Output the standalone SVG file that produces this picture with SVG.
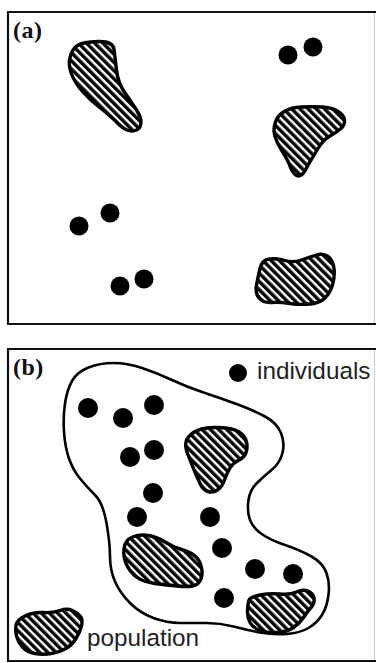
<svg xmlns="http://www.w3.org/2000/svg" width="376" height="663" viewBox="0 0 376 663">
<defs>
<pattern id="hatch" patternUnits="userSpaceOnUse" width="5.8" height="5.8" patternTransform="rotate(-45)">
<rect x="0" y="0" width="5.8" height="5.8" fill="#fff"/>
<rect x="0" y="0" width="3.4" height="5.8" fill="#000"/>
</pattern>
<style>
.frame{fill:none;stroke:#111;stroke-width:2.2;stroke-linecap:square}
.rframe{stroke:#ccc;stroke-width:1;fill:none}
.patch{fill:url(#hatch);stroke:#000;stroke-width:3.4;stroke-linejoin:round}
.dot{fill:#000}
.bound{fill:none;stroke:#000;stroke-width:2.6;stroke-linejoin:round}
.plabel{font-family:"Liberation Serif","Times New Roman",serif;font-weight:bold;font-size:24px;fill:#111;letter-spacing:0.5px}
.lbl{font-family:"Liberation Sans",Arial,sans-serif;font-size:24.3px;fill:#222}
</style>
</defs>
<rect width="376" height="663" fill="#fff"/>
<g id="panel-a">
<path class="frame" d="M8,12 L376,12 M8,12 L8,324 L376,324"/>
<line class="rframe" x1="374.5" y1="13" x2="374.5" y2="323"/>
<text class="plabel" x="13" y="38">(a)</text>
<g id="a-patch1"><path class="patch" d="M70,57.5 Q72,49 77.5,45.5 Q83,42 98,41.5 Q113,41 114,49.5 Q115,57 116.5,70 Q118,83 125,93 Q132,103 136.5,110 Q141,117 141,122 Q141,128 136.5,130 Q132,132 127,130 Q122,128 115,120.5 Q107,113 98.5,106.5 Q90,100 82.5,91.5 Q75,83 71.5,74 Q68,65 70,57.5 Z"/></g>
<g id="a-patch2"><path class="patch" d="M275,123.5 Q277,116 283.5,112 Q290,107.5 301.5,107 Q313,106.5 323,107 Q333,108 338,111.5 Q344,115 344.5,120 Q345,125 341,128.5 Q337,132 330,136 Q323,140 318,148.5 Q313,157 308,165 Q304,174 300.5,175.5 Q297,177 294,173.5 Q291,170 289,163.5 Q286,157 281.5,150 Q277,143 275,136.5 Q273,130 275,123.5 Z"/></g>
<g id="a-patch3"><path class="patch" d="M260,268.5 Q262,260 269.5,259 Q277,258 285,260.5 Q293,263 301.5,260 Q310,257 316.5,255 Q323,253 328,256.5 Q333,260 334,268.5 Q335,277 332.5,285 Q330,293 325,298 Q320,303 310,304 Q300,305 290,303.5 Q280,302 271.5,302.5 Q263,303 259,298 Q255,293 256.5,285 Q258,277 260,268.5 Z"/></g>
<g id="a-dots">
<circle class="dot" cx="288" cy="55" r="9.5"/>
<circle class="dot" cx="313" cy="47" r="9.5"/>
<circle class="dot" cx="79" cy="226" r="9.5"/>
<circle class="dot" cx="110" cy="213" r="9.5"/>
<circle class="dot" cx="120" cy="286" r="9.5"/>
<circle class="dot" cx="144" cy="279" r="9.5"/>
</g>
</g>
<g id="panel-b">
<path class="frame" d="M8,349 L376,349 M8,349 L8,661 L376,661"/>
<line class="rframe" x1="374.5" y1="350" x2="374.5" y2="660"/>
<text class="plabel" x="13" y="375">(b)</text>
<g id="legend-individuals">
<circle class="dot" cx="238" cy="373" r="9"/>
<text class="lbl" x="257" y="379">individuals</text>
</g>
<g id="population-boundary"><path class="bound" d="M72,381 Q77,372 88.5,367.5 Q100,363 113.5,363 Q127,363 142,368 Q157,373 172,380 Q187,387 203.5,392.5 Q220,398 236.5,404 Q253,410 265,416.5 Q277,423 281,433 Q285,443 282.5,453 Q280,463 271.5,470 Q263,477 256.5,483.5 Q250,490 248.5,500 Q247,510 249.5,518.5 Q252,527 261,533.5 Q270,540 285,545 Q300,550 311.5,556.5 Q323,563 326.5,573 Q330,583 328.5,595 Q327,607 322,615 Q317,623 308.5,628 Q300,633 286.5,634 Q273,635 260,632.5 Q247,630 233.5,626.5 Q220,623 206.5,623 Q193,623 180,623 Q167,623 153.5,618 Q140,613 130,603 Q120,593 115,581.5 Q110,570 110,556.5 Q110,543 106.5,523 Q103,503 95,495 Q87,487 80,478.5 Q73,470 69,458.5 Q65,447 64,432 Q63,417 65,403.5 Q67,390 72,381 Z"/></g>
<g id="b-patch1"><path class="patch" d="M186,442 Q187,437 193.5,432.5 Q200,428 213.5,427.5 Q227,427 235,430 Q243,433 245.5,439 Q248,445 246.5,451 Q245,457 239,460 Q233,463 230,468 Q227,473 224.5,480 Q222,487 217.5,490 Q213,493 208,491.5 Q203,490 200,483.5 Q197,477 193.5,468.5 Q190,460 187.5,453.5 Q185,447 186,442 Z"/></g>
<g id="b-patch2"><path class="patch" d="M124,548.5 Q125,540 132.5,537 Q140,534 148.5,535.5 Q157,537 165,542 Q173,547 181.5,549.5 Q190,552 195,556 Q200,560 201.5,567.5 Q203,575 200.5,580 Q198,585 192.5,586 Q187,587 177,586 Q167,585 155,583.5 Q143,582 136.5,577 Q130,572 126.5,564.5 Q123,557 124,548.5 Z"/></g>
<g id="b-patch3"><path class="patch" d="M249,600 Q250,597 260,595 Q270,593 280,594 Q290,595 296.5,592 Q303,589 308,591 Q313,593 314,598 Q315,603 311,607.5 Q307,612 303.5,617.5 Q300,623 293.5,627.5 Q287,632 277,632.5 Q267,633 260,630.5 Q253,628 250,622.5 Q247,617 247.5,610 Q248,603 249,600 Z"/></g>
<g id="b-patch4"><path class="patch" d="M16,625 Q17,620 25,616 Q33,612 43,612.5 Q53,613 60,610.5 Q67,608 72.5,610.5 Q78,613 80.5,616.5 Q83,620 81.5,626 Q80,632 76,638.5 Q72,645 66,648.5 Q60,652 51.5,653.5 Q43,655 35,653.5 Q27,652 22.5,647 Q18,642 16.5,636 Q15,630 16,625 Z"/></g>
<g id="b-dots">
<circle class="dot" cx="88" cy="408" r="10"/>
<circle class="dot" cx="123" cy="418" r="10"/>
<circle class="dot" cx="154" cy="405" r="10"/>
<circle class="dot" cx="130" cy="457" r="10"/>
<circle class="dot" cx="154" cy="450" r="10"/>
<circle class="dot" cx="153" cy="493" r="10"/>
<circle class="dot" cx="137" cy="517" r="10"/>
<circle class="dot" cx="210" cy="517" r="10"/>
<circle class="dot" cx="222" cy="548" r="10"/>
<circle class="dot" cx="255" cy="569" r="10"/>
<circle class="dot" cx="293" cy="574" r="10"/>
<circle class="dot" cx="224" cy="598" r="10"/>
</g>
<g id="population-label"><text class="lbl" x="87" y="646">population</text></g>
</g>
</svg>
